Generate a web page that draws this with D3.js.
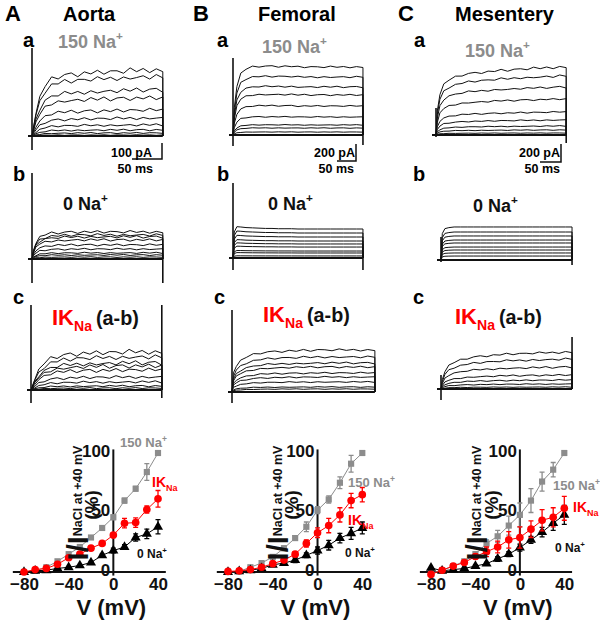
<!DOCTYPE html>
<html>
<head>
<meta charset="utf-8">
<script src="https://cdn.jsdelivr.net/npm/d3@7"></script>
<style>
  body { margin: 0; background: #fff; }
  #chart svg { display: block; font-family: Arial, "Liberation Sans", sans-serif; font-weight: bold; }
</style>
</head>
<body>
<div id="chart"></div>
<script>
// Columns and rows
const panelLetters = ["A", "B", "C"];
const vessels = ["Aorta", "Femoral", "Mesentery"];
const rowLetters = ["a", "b", "c"];

// I-V curves, current as % of I(NaCl) at +40 mV
const voltages = [-80, -70, -60, -50, -40, -30, -20, -10, 0, 10, 20, 30, 40];
const na150Aorta    = [0, 1, 4, 9, 15, 21, 29, 37, 46, 60, 70, 84, 100];
const na150AortaErr = [0, 0, 0, 0, 0, 1, 1, 1, 2, 2, 2, 7, 0];
const ikAorta       = [0, 2, 3, 6.5, 12, 15, 20, 24, 31, 41, 41.5, 52.5, 61.5];
const ikAortaErr    = [0, 0, 0, 1, 1, 1, 1, 1, 2, 4, 4, 3, 7];
const na0Aorta      = [0, 1, 1.5, 3, 4, 5.5, 8, 14, 18, 21, 29, 32, 38];
const na0AortaErr   = [0, 0, 0, 0, 0, 0, 1, 1, 2, 2, 3, 4, 6];

const na150Fem    = [0, 0.5, 4, 7.5, 12.7, 20, 28.5, 38, 52, 61, 75, 91, 100];
const na150FemErr = [0, 0, 1, 1, 1, 2, 2, 4, 3, 3, 5, 7, 0];
const ikFem       = [0.5, 1, 2, 4, 7, 10, 15, 24, 33, 39, 48, 60, 65];
const ikFemErr    = [0, 0, 0, 1, 1, 1, 2, 3, 4, 6, 6, 6, 6];
const na0Fem      = [0, 0.5, 1.5, 3, 6, 7.5, 10, 14, 18, 22.5, 28.5, 32.5, 37];
const na0FemErr   = [0, 0, 0, 0, 1, 1, 2, 2, 3, 4, 4, 5, 5];

const na150Mes    = [-1, 1.5, 5, 9, 15, 24, 30, 39, 48, 60, 76, 86, 100];
const na150MesErr = [0, 0, 1, 1, 2, 3, 5, 8, 10, 10, 8, 6, 0];
const ikMes       = [-2, 1.5, 5, 8, 13, 17, 21, 27, 29, 36, 43.5, 46, 53.5];
const ikMesErr    = [1, 1, 1, 1, 2, 4, 5, 7, 9, 7, 9, 8, 10];
const na0Mes      = [3.5, 1, 2, 3, 5, 7, 11, 15, 20.5, 27, 33.5, 41, 48];
const na0MesErr   = [0, 0, 0, 0, 1, 1, 2, 2, 3, 3, 4, 6, 8];

// Current traces: steady amplitude of each sweep (pA)
const ampAortaA = [412, 369, 288, 238, 162, 112, 69, 38, 19, 6];
const ampAortaB = [169, 150, 138, 119, 88, 62, 38, 25, 12];
const ampAortaC = [238, 206, 169, 150, 125, 81, 50, 25, 12];
const ampFemA = [800, 682, 565, 471, 341, 212, 118, 82, 35];
const ampFemB = [341, 294, 247, 200, 165, 129, 82, 59, 24];
const ampFemC = [494, 412, 341, 294, 224, 176, 118, 59, 35];
const ampMesA = [756, 656, 533, 400, 256, 167, 100, 56, 22];
const ampMesB = [367, 311, 267, 222, 189, 144, 111, 78, 44];
const ampMesC = [411, 333, 244, 156, 100, 56, 22];

// time course (fraction of sweep) and activation (fraction of steady amplitude)
const sampleT = [0, .01, .03, .06, .1, .15, .2, .25, .3, .35, .4, .45, .5, .55, .6, .65, .7, .75, .8, .85, .9, .95, 1];
const riseAortaA = [0, .12, .35, .58, .76, .86, .9, .92, .93, .94, .95, .96, .96, .97, .97, .98, .98, .99, .99, 1, 1, 1, 1];
const riseAortaB = [0, .3, .6, .8, .9, .95, .97, .98, .99, 1, 1, 1, 1, 1, 1, 1, 1, 1, 1, 1, 1, 1, 1];
const riseAortaC = [0, .1, .3, .52, .7, .82, .88, .91, .93, .95, .96, .97, .97, .98, .98, .99, .99, 1, 1, 1, 1, 1, 1];
const riseFemA = [0, .4, .72, .9, .97, 1, 1.01, 1.01, 1.01, 1.01, 1.01, 1.01, 1, 1, 1, 1, 1, 1, 1, 1, 1, 1, 1];
const riseFemB = [0, .9, 1.08, 1.07, 1.05, 1.04, 1.03, 1.02, 1.02, 1.01, 1.01, 1.01, 1, 1, 1, 1, 1, 1, 1, 1, 1, 1, 1];
const riseFemC = [0, .45, .62, .74, .83, .89, .93, .95, .96, .97, .98, .98, .99, .99, 1, 1, 1, 1, 1, 1, 1, 1, 1];
const riseMesA = [0, .35, .6, .74, .81, .85, .88, .9, .91, .92, .93, .94, .95, .95, .96, .97, .97, .98, .98, .99, .99, 1, 1];
const riseMesB = [0, .8, .95, .98, 1, 1, 1, 1, 1, 1, 1, 1, 1, 1, 1, 1, 1, 1, 1, 1, 1, 1, 1];
const riseMesC = [0, .25, .48, .63, .72, .78, .83, .86, .88, .9, .91, .93, .94, .95, .95, .96, .97, .97, .98, .98, .99, 1, 1];
// recording noise pattern (relative)
const ripple = [0, .4, -.7, .8, -.3, .9, -.8, .3, .6, -.9, .5, -.4, .8, -.7, .4, .2, -.6, .9, -.3, .5, -.8, .4, -.5];

// sweep durations (ms), rows a, b, c
const sweepAorta = [218, 218, 218];
const sweepFem = [342, 342, 376];
const sweepMes = [310, 312, 312];
// capacitive transients [up, down] in pA at step on / step off
const spikeOnAorta = [[550, -88], [538, -150], [531, -81]];
const spikeOffAorta = [[0, 0], [0, -150], [531, -50]];
const spikeOnFem = [[906, -129], [882, -141], [965, -129]];
const spikeOffFem = [[0, -118], [0, -141], [0, 0]];
const spikeOnMes = [[300, -22], [256, -22], [156, -122]];
const spikeOffMes = [[0, -89], [0, -56], [578, 0]];
// scale bars
const barPA = [100, 200, 200];
const barMs = [50, 50, 50];

// ---------------- layout ----------------
const width = 600, height = 622;
const svg = d3.select("#chart").append("svg")
    .attr("width", width)
    .attr("height", height);

const cols = [
  { lx: 5, tx: 63, rowX: [23, 13, 13], pxPA: 0.16, pxMs: 0.6,
    x0: [32, 32, 31], base: [136, 259, 390],
    amps: [ampAortaA, ampAortaB, ampAortaC], rise: [riseAortaA, riseAortaB, riseAortaC],
    sweep: sweepAorta, on: spikeOnAorta, off: spikeOffAorta, noise: [20, 10, 18],
    naX: 58, na0X: 63, ikX: 52, barX: 162, barY: 159, barTextX: 152, msTextX: 153 },
  { lx: 193, tx: 258, rowX: [217, 217, 214], pxPA: 0.085, pxMs: 0.38,
    x0: [233, 233, 232], base: [135, 258, 392],
    amps: [ampFemA, ampFemB, ampFemC], rise: [riseFemA, riseFemB, riseFemC],
    sweep: sweepFem, on: spikeOnFem, off: spikeOffFem, noise: [12, 0, 15],
    naX: 262, na0X: 268, ikX: 263, barX: 356, barY: 161, barTextX: 355, msTextX: 354 },
  { lx: 398, tx: 455, rowX: [414, 413, 413], pxPA: 0.09, pxMs: 0.42,
    x0: [436, 441, 441], base: [135, 260, 389],
    amps: [ampMesA, ampMesB, ampMesC], rise: [riseMesA, riseMesB, riseMesC],
    sweep: sweepMes, on: spikeOnMes, off: spikeOffMes, noise: [15, 0, 15],
    naX: 465, na0X: 473, ikX: 455, barX: 561, barY: 162, barTextX: 560, msTextX: 560 }
];
const rowBase = [47, 181, 304];
const titleY = [[48, 210, 325], [53, 210, 322], [57, 212, 324]];

function supLabel(x, y, size, color, txt) {
  const t = svg.append("text").attr("x", x).attr("y", y)
      .attr("fill", color).style("font-size", size + "px");
  t.append("tspan").text(txt);
  t.append("tspan").attr("dy", -size * 0.42).style("font-size", (size * 0.65) + "px").text("+");
  return t;
}

function ikLabel(x, y, size, tail) {
  const t = svg.append("text").attr("x", x).attr("y", y)
      .attr("fill", "#f00").style("font-size", size + "px");
  t.append("tspan").text("IK");
  t.append("tspan").attr("dy", size * 0.25).style("font-size", (size * 0.64) + "px").text("Na");
  if (tail) {
    t.append("tspan").attr("dy", -size * 0.25).attr("dx", 4).attr("fill", "#111")
        .style("font-size", (size * 0.9) + "px").text(tail);
  }
  return t;
}

const traceLine = d3.line();

cols.forEach((c, ci) => {
  // headers
  svg.append("text").attr("x", c.lx).attr("y", 21).style("font-size", "22px").text(panelLetters[ci]);
  svg.append("text").attr("x", c.tx).attr("y", 21).style("font-size", "20px").text(vessels[ci]);

  rowLetters.forEach((r, ri) => {
    svg.append("text").attr("x", c.rowX[ri]).attr("y", rowBase[ri]).style("font-size", "20px").text(r);

    const sweep = c.sweep[ri];
    const x = d3.scaleLinear().domain([0, sweep]).range([c.x0[ri], c.x0[ri] + sweep * c.pxMs]);
    const y = d3.scaleLinear().domain([0, 100]).range([c.base[ri], c.base[ri] - 100 * c.pxPA]);
    const g = svg.append("g").attr("fill", "none").attr("stroke", "#111");

    g.append("line")
        .attr("x1", x(0) - 4).attr("x2", x(sweep))
        .attr("y1", y(0)).attr("y2", y(0))
        .attr("stroke-width", 2);

    const amps = c.amps[ri], rise = c.rise[ri], top = amps[0];
    traceLine.x(d => x(d[0])).y(d => y(d[1]));
    amps.forEach((amp, i) => {
      const pts = sampleT.map((f, k) => {
        const wob = c.noise[ri] * ripple[(k + 5 * i) % ripple.length] * rise[k] * Math.sqrt(amp / top);
        return [f * sweep, amp * rise[k] + wob];
      });
      pts.push([sweep, 0]);
      g.append("path").attr("d", traceLine(pts)).attr("stroke-width", 1);
    });

    [[0, c.on[ri]], [sweep, c.off[ri]]].forEach(([t, s]) => {
      if (s[0] === 0 && s[1] === 0) return;
      g.append("line")
          .attr("x1", x(t)).attr("x2", x(t))
          .attr("y1", y(s[0])).attr("y2", y(s[1]))
          .attr("stroke-width", 1.6);
    });

    // scale bar under the "a" traces
    if (ri === 0) {
      const h = barPA[ci] * c.pxPA, w = barMs[ci] * c.pxMs;
      svg.append("path")
          .attr("d", `M${c.barX - w},${c.barY}H${c.barX}V${c.barY - h}`)
          .attr("fill", "none").attr("stroke", "#111").attr("stroke-width", 1.5);
      svg.append("text").attr("x", c.barTextX).attr("y", 157).attr("text-anchor", "end")
          .style("font-size", "12.5px").text(barPA[ci] + " pA");
      svg.append("text").attr("x", c.msTextX).attr("y", 173).attr("text-anchor", "end")
          .style("font-size", "12.5px").text(barMs[ci] + " ms");
    }
  });

  supLabel(c.naX, titleY[ci][0], 18, "#8c8c8c", "150 Na");
  supLabel(c.na0X, titleY[ci][1], 18, "#111", "0 Na");
  ikLabel(c.ikX, titleY[ci][2], 22, "(a-b)");
});

// ---------------- I-V plots ----------------
const ivCols = [
  { xr: [24, 158], lab1: 88, lab2: 98,
    series: [[na150Aorta, na150AortaErr], [na0Aorta, na0AortaErr], [ikAorta, ikAortaErr]],
    gray: [120, 447], red: [152, 487], black: [137, 558] },
  { xr: [228, 362.3], lab1: 288, lab2: 298,
    series: [[na150Fem, na150FemErr], [na0Fem, na0FemErr], [ikFem, ikFemErr]],
    gray: [348, 487], red: [348, 525], black: [345, 557] },
  { xr: [431, 564.3], lab1: 487, lab2: 498,
    series: [[na150Mes, na150MesErr], [na0Mes, na0MesErr], [ikMes, ikMesErr]],
    gray: [553, 490], red: [573, 512], black: [555, 552] }
];
const seriesStyle = [
  { color: "#8c8c8c", symbol: d3.symbolSquare, size: 38 },
  { color: "#000", symbol: d3.symbolTriangle, size: 44 },
  { color: "#f00", symbol: d3.symbolCircle, size: 46 }
];

ivCols.forEach(p => {
  const x = d3.scaleLinear().domain([-80, 40]).range(p.xr);
  const y = d3.scaleLinear().domain([0, 100]).range([572, 453]);
  const g = svg.append("g");

  const xAxis = g.append("g").attr("transform", `translate(0,${y(0)})`)
      .call(d3.axisBottom(x).tickValues([-80, -40, 0, 40]).tickSize(0).tickPadding(6));
  xAxis.select(".domain").remove();
  xAxis.selectAll("text").style("font-size", "17px").style("font-weight", "bold")
      .style("font-family", "Arial, 'Liberation Sans', sans-serif").attr("fill", "#111");
  g.append("line").attr("x1", x(-90)).attr("x2", x(47)).attr("y1", y(0)).attr("y2", y(0))
      .attr("stroke", "#111").attr("stroke-width", 2);

  const yAxis = g.append("g").attr("transform", `translate(${x(0)},0)`)
      .call(d3.axisLeft(y).tickValues([0, 50, 100]).tickSize(0).tickPadding(3));
  yAxis.select(".domain").remove();
  yAxis.selectAll("text").attr("dy", "0.2em").style("font-size", "17px").style("font-weight", "bold")
      .style("font-family", "Arial, 'Liberation Sans', sans-serif").attr("fill", "#111");
  g.append("line").attr("x1", x(0)).attr("x2", x(0)).attr("y1", y(-3)).attr("y2", y(103))
      .attr("stroke", "#111").attr("stroke-width", 2);

  p.series.forEach(([vals, errs], si) => {
    const st = seriesStyle[si];
    const pts = voltages.map((v, i) => ({ v, m: vals[i], e: errs[i] }));
    g.append("path")
        .attr("d", d3.line().x(d => x(d.v)).y(d => y(d.m))(pts))
        .attr("fill", "none").attr("stroke", st.color).attr("stroke-width", 1);
    const eb = g.append("g").attr("stroke", st.color).attr("stroke-width", 1.3);
    pts.filter(d => d.e > 0).forEach(d => {
      eb.append("path").attr("d",
        `M${x(d.v)},${y(d.m - d.e)}V${y(d.m + d.e)}M${x(d.v) - 2.5},${y(d.m + d.e)}H${x(d.v) + 2.5}M${x(d.v) - 2.5},${y(d.m - d.e)}H${x(d.v) + 2.5}`);
    });
    g.selectAll(null).data(pts).enter().append("path")
        .attr("transform", d => `translate(${x(d.v)},${y(d.m)})`)
        .attr("d", d3.symbol().type(st.symbol).size(st.size))
        .attr("fill", st.color);
  });

  supLabel(p.gray[0], p.gray[1], 13, "#8c8c8c", "150 Na");
  ikLabel(p.red[0], p.red[1], 14, null);
  supLabel(p.black[0], p.black[1], 12, "#111", "0 Na");

  // y label, rotated two lines
  const l1 = svg.append("text").attr("transform", `translate(${p.lab1},503) rotate(-90)`)
      .attr("text-anchor", "middle").attr("fill", "#111");
  l1.append("tspan").style("font-size", "29px").text("I/I");
  l1.append("tspan").attr("dy", -6).style("font-size", "12.5px").text("NaCl at +40 mV");
  svg.append("text").attr("transform", `translate(${p.lab2},505) rotate(-90)`)
      .attr("text-anchor", "middle").attr("fill", "#111")
      .style("font-size", "19px").text("(%)");

  svg.append("text").attr("x", x(0) - 2).attr("y", 615)
      .attr("text-anchor", "middle").attr("fill", "#111")
      .style("font-size", "22px").text("V (mV)");
});
</script>
</body>
</html>
